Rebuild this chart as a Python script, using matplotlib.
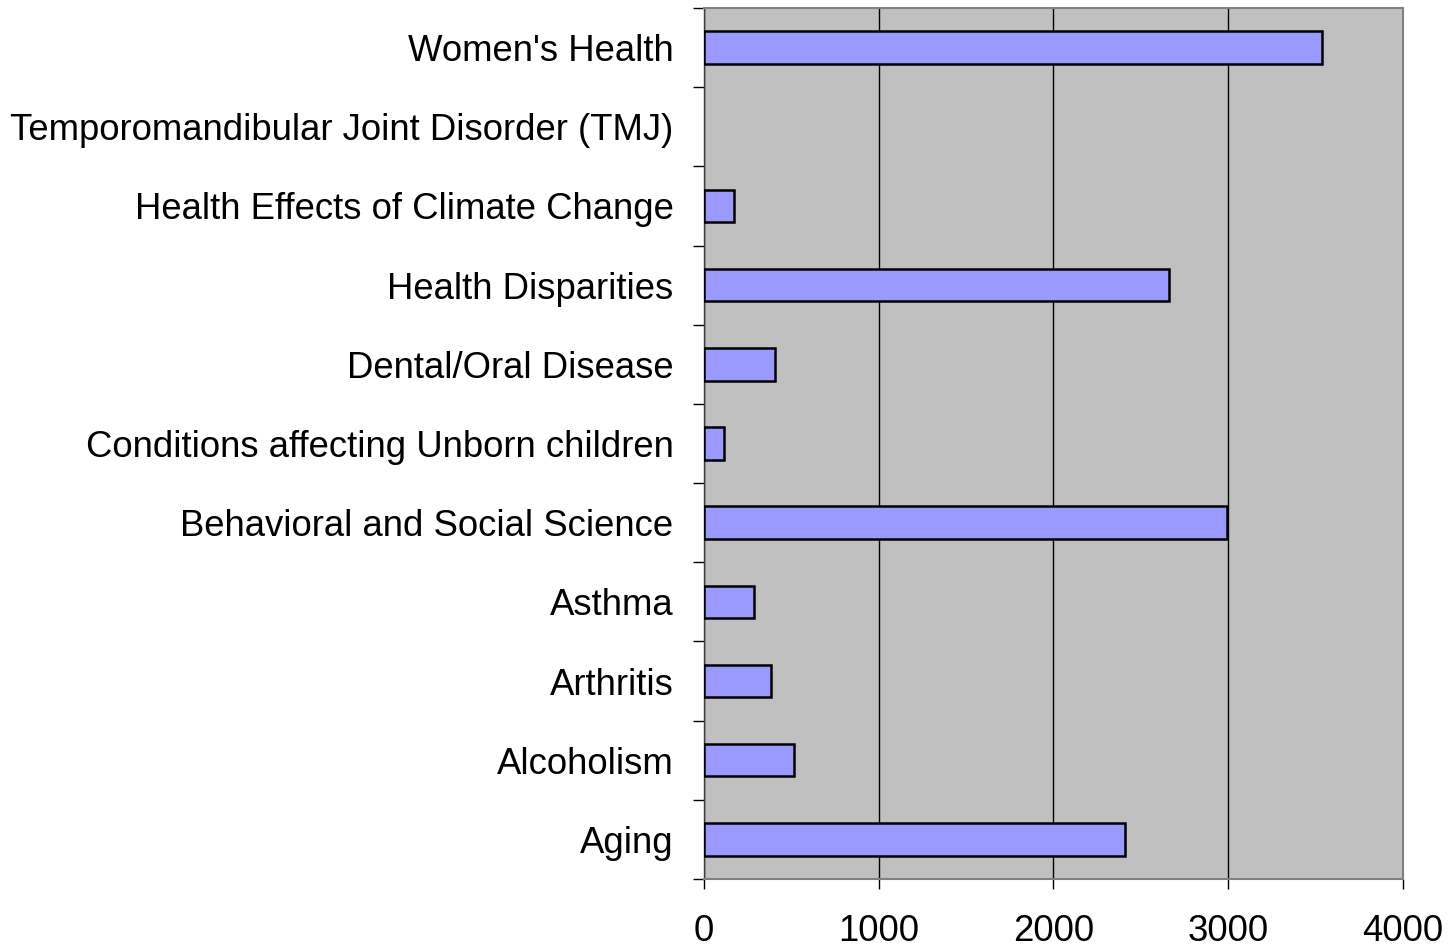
import matplotlib.pyplot as plt
import numpy as np

plt.rcParams['font.family'] = ['Liberation Sans', 'DejaVu Sans']

categories = ["Aging", "Alcoholism", "Arthritis", "Asthma",
              "Behavioral and Social Science", "Conditions affecting Unborn children",
              "Dental/Oral Disease", "Health Disparities",
              "Health Effects of Climate Change",
              "Temporomandibular Joint Disorder (TMJ)", "Women's Health"]
values = [2409, 515, 383, 286, 2993, 114, 406, 2661, 172, 0, 3536]
x_ticks = [0, 1000, 2000, 3000, 4000]

fig = plt.figure(figsize=(14.53, 9.49), dpi=100)
ax = fig.add_axes([0.4845, 0.0738, 0.4811, 0.9178])
ax.set_facecolor('#C0C0C0')

y = np.arange(len(categories))
edges = ['black' if v > 0 else 'none' for v in values]
ax.barh(y, values, height=0.41, color='#9999FF', edgecolor=edges, linewidth=1.8, zorder=3)

ax.set_xlim(0, 4000)
ax.set_ylim(-0.5, len(categories) - 0.5)
ax.set_xticks(x_ticks)
ax.set_xticklabels([str(t) for t in x_ticks], fontsize=26.3)
ax.xaxis.grid(True, color='black', linewidth=1.0, zorder=1)
ax.set_axisbelow(True)

ax.set_yticks(y)
ax.set_yticklabels(categories, fontsize=26.3)
ax.set_yticks(np.arange(-0.5, len(categories), 1.0), minor=True)
ax.tick_params(axis='y', which='major', length=0, pad=22)
ax.tick_params(axis='y', which='minor', length=8, width=1, direction='out', color='black')
ax.tick_params(axis='x', length=7, width=1, direction='out', pad=18)

for side in ['top', 'right', 'bottom']:
    ax.spines[side].set_color('#808080')
    ax.spines[side].set_linewidth(1.5)
ax.spines['left'].set_color('#404040')
ax.spines['left'].set_linewidth(1.0)

fig.savefig('out.png', dpi=100)
